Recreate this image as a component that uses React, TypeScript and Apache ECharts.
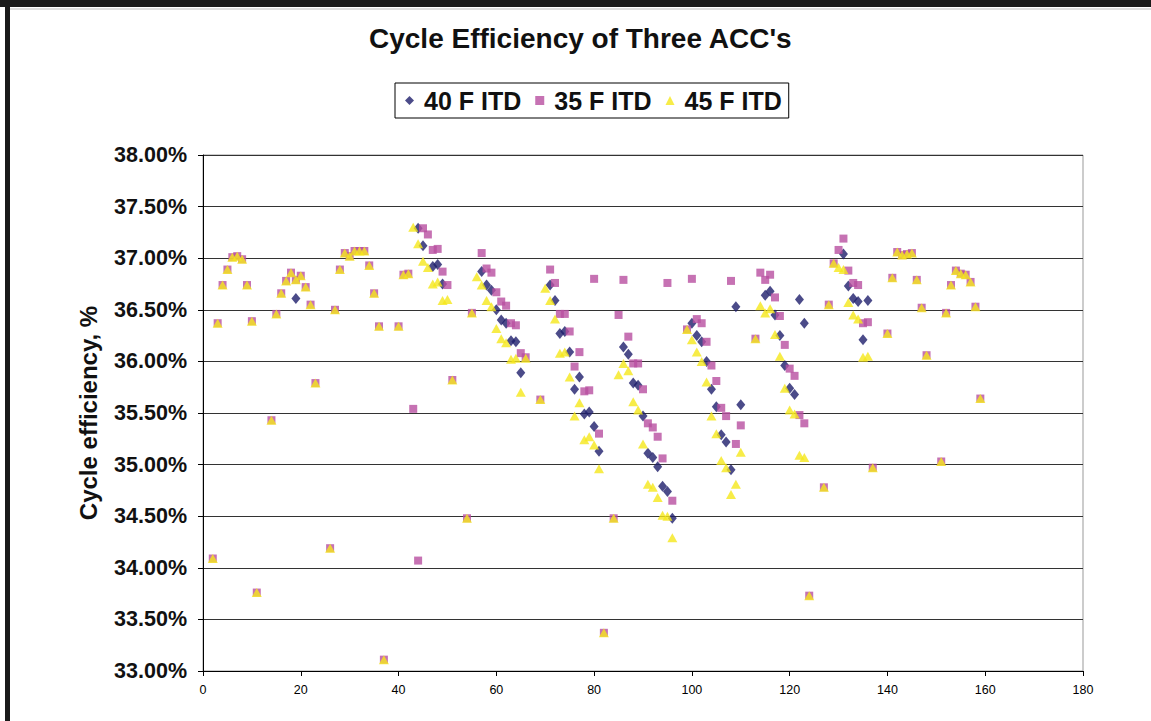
import React, { useEffect, useRef } from 'react';
import * as echarts from 'echarts';

const titleText = "Cycle Efficiency of Three ACC's";
const yAxisTitle = 'Cycle efficiency, %';
const seriesNames = ['40 F ITD', '35 F ITD', '45 F ITD'];

// 40 F ITD (diamonds): [x, efficiency %]
const itd40: [number, number][] = [
  [19, 36.61], [44, 37.29], [45, 37.12], [47, 36.92], [48, 36.94], [49, 36.75],
  [57, 36.87], [58, 36.74], [59, 36.69], [60, 36.5], [61, 36.4], [62, 36.37], [63, 36.2], [64, 36.19], [65, 35.89],
  [71, 36.74], [72, 36.59], [73, 36.27], [74, 36.29], [75, 36.09], [76, 35.73], [77, 35.85], [78, 35.49], [79, 35.51], [80, 35.37], [81, 35.13],
  [86, 36.14], [87, 36.07], [88, 35.79], [89, 35.77], [90, 35.47], [91, 35.11], [92, 35.07], [93, 34.98], [94, 34.79], [95, 34.74], [96, 34.48],
  [100, 36.37], [101, 36.25], [102, 36.19], [103, 36.0], [104, 35.73], [105, 35.56], [106, 35.29], [107, 35.22], [108, 34.95], [109, 36.53], [110, 35.58],
  [115, 36.64], [116, 36.68], [117, 36.45], [118, 36.25], [119, 35.96], [120, 35.74], [121, 35.68], [122, 36.6], [123, 36.37],
  [131, 37.04], [132, 36.73], [133, 36.61], [134, 36.58], [135, 36.21], [136, 36.59],
];

// 35 F ITD (squares)
const itd35: [number, number][] = [
  [2, 34.09], [3, 36.37], [4, 36.74], [5, 36.89], [6, 37.01], [7, 37.02], [8, 36.99], [9, 36.74], [10, 36.39], [11, 33.76],
  [14, 35.43], [15, 36.46], [16, 36.66], [17, 36.78], [18, 36.86], [19, 36.79], [20, 36.83], [21, 36.72], [22, 36.55], [23, 35.79],
  [26, 34.19], [27, 36.5], [28, 36.89], [29, 37.05], [30, 37.02], [31, 37.07], [32, 37.07], [33, 37.07], [34, 36.93], [35, 36.66], [36, 36.34], [37, 33.11],
  [40, 36.34], [41, 36.84], [42, 36.85], [43, 35.54], [44, 34.07], [45, 37.29], [46, 37.23], [47, 37.08], [48, 37.09], [49, 36.87], [50, 36.74], [51, 35.82],
  [54, 34.48], [55, 36.47], [57, 37.05], [58, 36.9], [59, 36.86], [60, 36.67], [61, 36.58], [62, 36.54], [63, 36.37], [64, 36.35], [65, 36.08], [66, 36.04],
  [69, 35.63], [71, 36.89], [72, 36.76], [73, 36.46], [74, 36.46], [75, 36.29], [76, 35.95], [77, 36.09], [78, 35.71], [79, 35.72], [80, 36.8], [81, 35.3], [82, 33.37],
  [84, 34.48], [85, 36.45], [86, 36.79], [87, 36.24], [88, 35.98], [89, 35.98], [90, 35.73], [91, 35.4], [92, 35.36], [93, 35.27], [94, 35.06], [95, 36.76], [96, 34.65],
  [99, 36.31], [100, 36.8], [101, 36.41], [102, 36.37], [103, 36.19], [104, 35.96], [105, 35.81], [106, 35.55], [107, 35.47], [108, 36.78], [109, 35.2], [110, 35.38],
  [113, 36.22], [114, 36.86], [115, 36.79], [116, 36.84], [117, 36.62], [118, 36.44], [119, 36.16], [120, 35.93], [121, 35.86], [122, 35.48], [123, 35.4], [124, 33.73],
  [127, 34.78], [128, 36.55], [129, 36.95], [130, 37.08], [131, 37.19], [132, 36.88], [133, 36.76], [134, 36.74], [135, 36.37], [136, 36.38], [137, 34.97],
  [140, 36.27], [141, 36.81], [142, 37.06], [143, 37.03], [144, 37.04], [145, 37.05], [146, 36.79], [147, 36.52], [148, 36.06],
  [151, 35.03], [152, 36.47], [153, 36.74], [154, 36.88], [155, 36.85], [156, 36.84], [157, 36.77], [158, 36.53], [159, 35.64],
];

// 45 F ITD (triangles)
const itd45: [number, number][] = [
  [2, 34.09], [3, 36.37], [4, 36.74], [5, 36.89], [6, 37.01], [7, 37.02], [8, 36.99], [9, 36.74], [10, 36.39], [11, 33.76],
  [14, 35.43], [15, 36.46], [16, 36.66], [17, 36.78], [18, 36.86], [19, 36.79], [20, 36.83], [21, 36.72], [22, 36.55], [23, 35.79],
  [26, 34.19], [27, 36.5], [28, 36.89], [29, 37.05], [30, 37.02], [31, 37.07], [32, 37.07], [33, 37.07], [34, 36.93], [35, 36.66], [36, 36.34], [37, 33.11],
  [40, 36.34], [41, 36.84], [42, 36.85], [43, 37.3], [44, 37.14], [45, 36.97], [46, 36.91], [47, 36.75], [48, 36.77], [49, 36.59], [50, 36.6], [51, 35.82],
  [54, 34.48], [55, 36.47], [56, 36.82], [57, 36.74], [58, 36.59], [59, 36.53], [60, 36.32], [61, 36.22], [62, 36.18], [63, 36.02], [64, 36.03], [65, 35.7], [66, 36.03],
  [69, 35.63], [70, 36.71], [71, 36.59], [72, 36.41], [73, 36.08], [74, 36.09], [75, 35.85], [76, 35.47], [77, 35.6], [78, 35.24], [79, 35.27], [80, 35.19], [81, 34.96], [82, 33.37],
  [84, 34.48], [85, 35.87], [86, 35.98], [87, 35.91], [88, 35.61], [89, 35.53], [90, 35.2], [91, 34.81], [92, 34.78], [93, 34.68], [94, 34.51], [95, 34.5], [96, 34.29],
  [99, 36.31], [100, 36.21], [101, 36.09], [102, 36.0], [103, 35.8], [104, 35.47], [105, 35.3], [106, 35.04], [107, 34.97], [108, 34.71], [109, 34.81], [110, 35.12],
  [113, 36.22], [114, 36.54], [115, 36.47], [116, 36.51], [117, 36.26], [118, 36.05], [119, 35.74], [120, 35.53], [121, 35.49], [122, 35.09], [123, 35.07], [124, 33.73],
  [127, 34.78], [128, 36.55], [129, 36.95], [130, 36.91], [131, 36.89], [132, 36.57], [133, 36.45], [134, 36.41], [135, 36.04], [136, 36.05], [137, 34.97],
  [140, 36.27], [141, 36.81], [142, 37.06], [143, 37.03], [144, 37.04], [145, 37.05], [146, 36.79], [147, 36.52], [148, 36.06],
  [151, 35.03], [152, 36.47], [153, 36.74], [154, 36.88], [155, 36.85], [156, 36.84], [157, 36.77], [158, 36.53], [159, 35.64],
];

const FONT = "'Liberation Sans', Arial, sans-serif";

export default function App() {
  const ref = useRef<HTMLDivElement>(null);
  useEffect(() => {
    document.body.style.margin = '0';
    const chart = echarts.init(ref.current as HTMLDivElement, null, { renderer: 'svg' });
    chart.setOption({
      animation: false,
      backgroundColor: '#fff',
      textStyle: { fontFamily: FONT },
      title: {
        text: titleText,
        left: 369,
        top: 24,
        padding: 0,
        textStyle: { fontSize: 28, fontWeight: 'bold', color: '#111', fontFamily: FONT },
      },
      legend: {
        data: seriesNames,
        left: 395,
        top: 83,
        orient: 'horizontal',
        padding: [5, 7, 5, 10],
        itemGap: 14,
        itemWidth: 9,
        itemHeight: 9,
        borderColor: '#000',
        borderWidth: 1,
        textStyle: {
          fontSize: 25,
          fontWeight: 'bold',
          color: '#111',
          fontFamily: FONT,
          padding: [0, 0, 0, 5],
        },
      },
      graphic: [
        { type: 'rect', shape: { x: 0, y: 0, width: 1151, height: 7 }, style: { fill: '#1a1a1a' } },
        { type: 'rect', shape: { x: 5, y: 0, width: 5, height: 721 }, style: { fill: '#1a1a1a' } },
        { type: 'line', shape: { x1: 10, y1: 9, x2: 1151, y2: 9 }, style: { stroke: '#bbb', lineWidth: 1 } },
      ],
      grid: {
        left: 203,
        top: 155,
        right: 68,
        bottom: 50,
        show: true,
        borderColor: '#999',
        borderWidth: 1,
        backgroundColor: 'transparent',
      },
      xAxis: {
        type: 'value',
        min: 0,
        max: 180,
        interval: 20,
        axisLine: { show: true, lineStyle: { color: '#000', width: 1 } },
        axisTick: { show: true, inside: false, length: 5, lineStyle: { color: '#000' } },
        axisLabel: { fontSize: 12.5, color: '#000', margin: 12, fontFamily: FONT },
        splitLine: { show: false },
      },
      yAxis: {
        type: 'value',
        min: 33,
        max: 38,
        interval: 0.5,
        name: yAxisTitle,
        nameLocation: 'middle',
        nameRotate: 90,
        nameGap: 103,
        nameTextStyle: { fontSize: 24, fontWeight: 'bold', color: '#111', fontFamily: FONT },
        axisLine: { show: true, onZero: false, lineStyle: { color: '#000', width: 1 } },
        axisTick: { show: true, inside: false, length: 5, lineStyle: { color: '#000' } },
        axisLabel: {
          fontSize: 21.5,
          fontWeight: 'bold',
          color: '#111',
          margin: 16,
          fontFamily: FONT,
          formatter: (v: number) => v.toFixed(2) + '%',
        },
        splitLine: { show: true, lineStyle: { color: '#333', width: 1 } },
      },
      series: [
        {
          name: seriesNames[0],
          type: 'scatter',
          data: itd40,
          symbol: 'diamond',
          symbolSize: [9, 11],
          itemStyle: { color: '#1E1E6B' },
        },
        {
          name: seriesNames[1],
          type: 'scatter',
          data: itd35,
          symbol: 'rect',
          symbolSize: 8,
          itemStyle: { color: '#B84FA0' },
        },
        {
          name: seriesNames[2],
          type: 'scatter',
          data: itd45,
          symbol: 'triangle',
          symbolSize: [10, 9],
          itemStyle: { color: '#F5E71A' },
        },
      ],
    });
    return () => chart.dispose();
  }, []);
  return <div ref={ref} style={{ width: 1151, height: 721 }} />;
}
